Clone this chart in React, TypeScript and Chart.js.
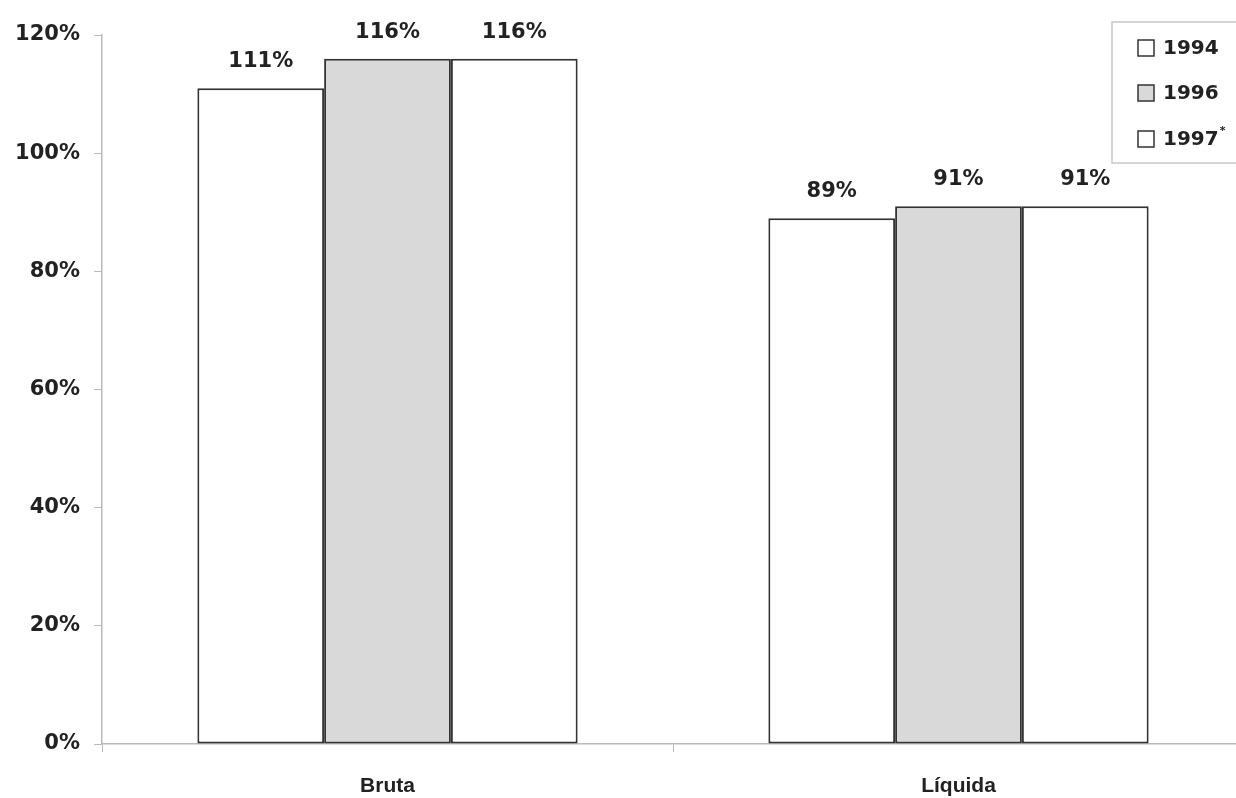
import React, { useEffect, useRef } from "react";
import { Chart, registerables } from "chart.js";

Chart.register(...registerables);

const categories = ["Bruta", "Líquida"];
const seriesLabels = ["1994", "1996", "1997"];
const values1994 = [111, 89];
const values1996 = [116, 91];
const values1997 = [116, 91];
const yTicks = [0, 20, 40, 60, 80, 100, 120];

const FONT = "'DejaVu Sans', Verdana, sans-serif";
const XFONT = "'Liberation Sans', Arial, Helvetica, sans-serif";
const fills = ["#ffffff", "#d9d9d9", "#ffffff"];

const valueLabels = {
  id: "valueLabels",
  afterDatasetsDraw(chart: any) {
    const ctx = chart.ctx;
    ctx.save();
    ctx.font = `bold 21px ${FONT}`;
    ctx.fillStyle = "#222";
    ctx.textAlign = "center";
    ctx.textBaseline = "alphabetic";
    chart.data.datasets.forEach((ds: any, i: number) => {
      const meta = chart.getDatasetMeta(i);
      meta.data.forEach((bar: any, j: number) => {
        ctx.fillText(`${ds.data[j]}%`, bar.x, bar.y - 21);
      });
    });
    ctx.restore();
  },
};

const boxLegend = {
  id: "boxLegend",
  afterDraw(chart: any) {
    const ctx = chart.ctx;
    ctx.save();
    const bx = 1112, by = 22, bw = 140, bh = 141;
    ctx.strokeStyle = "#c8c8c8";
    ctx.lineWidth = 1.5;
    ctx.strokeRect(bx, by, bw, bh);
    const rows = [48, 93, 139];
    chart.data.datasets.forEach((ds: any, i: number) => {
      const y = rows[i];
      ctx.fillStyle = ds.backgroundColor;
      ctx.fillRect(1138, y - 8, 16, 16);
      ctx.strokeStyle = "#333";
      ctx.lineWidth = 1.5;
      ctx.strokeRect(1138, y - 8, 16, 16);
      ctx.fillStyle = "#222";
      ctx.font = `bold 20px ${FONT}`;
      ctx.textAlign = "left";
      ctx.textBaseline = "middle";
      ctx.fillText(ds.label, 1163, y + 1);
      if (i === 2) {
        const w = ctx.measureText(ds.label).width;
        ctx.font = `bold 11px ${FONT}`;
        ctx.fillText("*", 1163 + w + 1, y - 8);
      }
    });
    ctx.restore();
  },
};

export default function App() {
  const ref = useRef<HTMLCanvasElement>(null);
  useEffect(() => {
    if (!ref.current) return;
    const data = [values1994, values1996, values1997];
    const chart = new Chart(ref.current, {
      type: "bar",
      data: {
        labels: categories,
        datasets: seriesLabels.map((l, i) => ({
          label: l,
          data: data[i],
          backgroundColor: fills[i],
          borderColor: "#333",
          borderWidth: 2,
          borderSkipped: false,
          categoryPercentage: 0.666,
          barPercentage: 1.0,
        })),
      },
      options: {
        responsive: false,
        animation: false,
        devicePixelRatio: 1,
        layout: { padding: { top: 35, left: 0, right: 0, bottom: 0 } },
        plugins: { legend: { display: false }, tooltip: { enabled: false } },
        scales: {
          x: {
            grid: {
              display: true,
              drawOnChartArea: false,
              drawTicks: true,
              tickLength: 8,
              color: "#bbb",
              offset: true,
            },
            border: { display: true, color: "#bbb", width: 1.5 },
            ticks: {
              color: "#222",
              font: { family: XFONT, size: 21, weight: "bold" },
              padding: 22,
            },
            afterFit(scale: any) {
              scale.height = 54;
            },
          },
          y: {
            min: 0,
            max: 120,
            afterBuildTicks(scale: any) {
              scale.ticks = yTicks.map((v) => ({ value: v }));
            },
            grid: {
              display: true,
              drawOnChartArea: false,
              drawTicks: true,
              tickLength: 8,
              color: "#bbb",
            },
            border: { display: true, color: "#bbb", width: 1.5 },
            ticks: {
              color: "#222",
              font: { family: FONT, size: 21, weight: "bold" },
              padding: 14,
              callback: (v: any) => `${v}%`,
            },
            afterFit(scale: any) {
              scale.width = 102;
            },
          },
        },
      },
      plugins: [valueLabels, boxLegend],
    });
    return () => chart.destroy();
  }, []);
  return (
    <div style={{ position: "absolute", left: 0, top: 0, width: 1236, height: 798, overflow: "hidden", background: "#fff" }}>
      <canvas ref={ref} width={1244} height={798} style={{ display: "block" }} />
    </div>
  );
}
